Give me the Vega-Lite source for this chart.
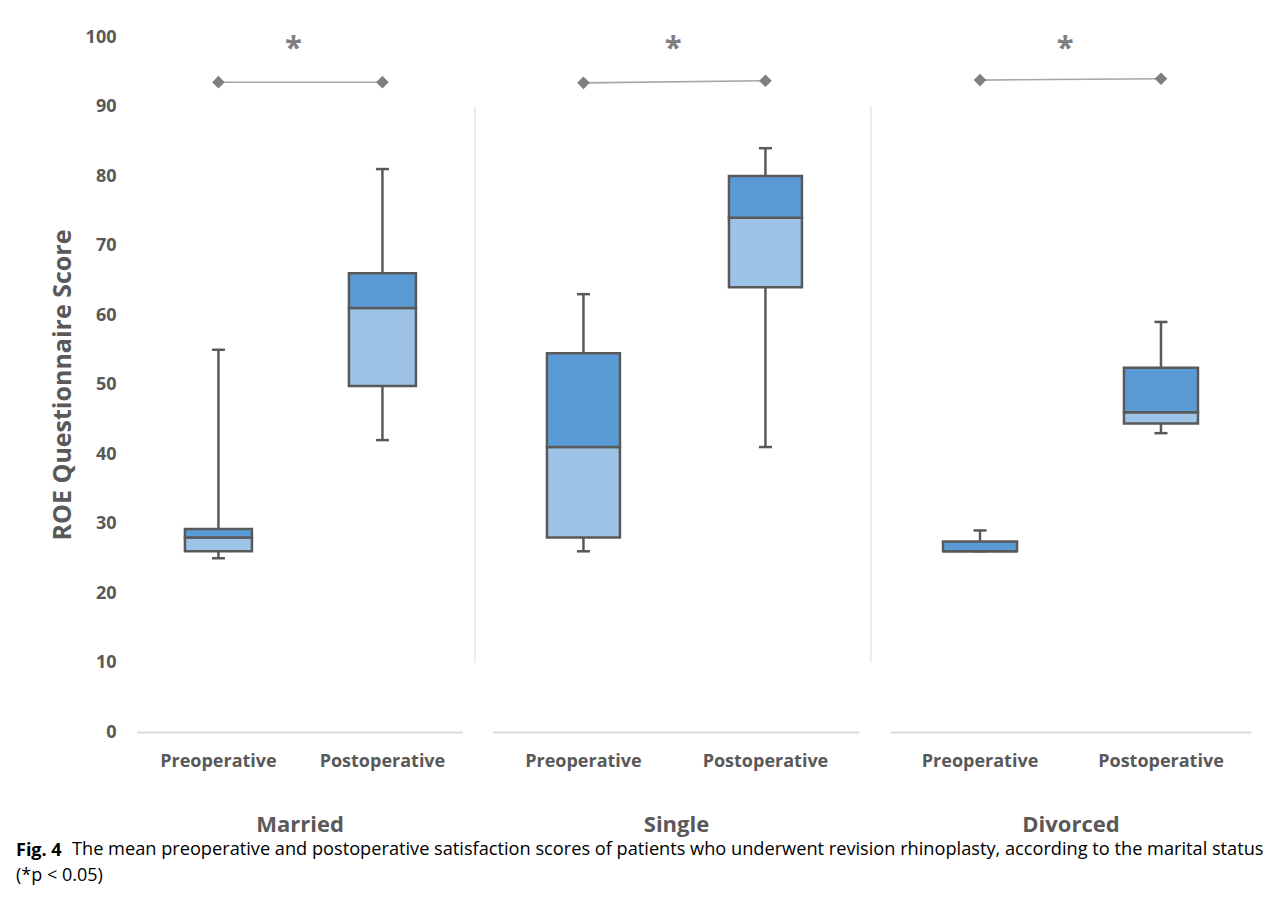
{
  "$schema": "https://vega.github.io/schema/vega-lite/v6.json",
  "background": "white",
  "padding": {"left": 16, "top": 28, "right": 5, "bottom": 5},
  "datasets": {
    "boxes": [
      {"group": "Married", "phase": "Preoperative", "min": 25, "q1": 26, "median": 28, "q3": 29.2, "max": 55, "mean": 93.5},
      {"group": "Married", "phase": "Postoperative", "min": 42, "q1": 49.8, "median": 61, "q3": 66, "max": 81, "mean": 93.5},
      {"group": "Single", "phase": "Preoperative", "min": 26, "q1": 28, "median": 41, "q3": 54.5, "max": 63, "mean": 93.4},
      {"group": "Single", "phase": "Postoperative", "min": 41, "q1": 64, "median": 74, "q3": 80, "max": 84, "mean": 93.7},
      {"group": "Divorced", "phase": "Preoperative", "min": 26, "q1": 26, "median": 26, "q3": 27.4, "max": 29, "mean": 93.8},
      {"group": "Divorced", "phase": "Postoperative", "min": 43, "q1": 44.4, "median": 46, "q3": 52.4, "max": 59, "mean": 94.0}
    ],
    "significance": [
      {"group": "Married", "label": "*"},
      {"group": "Single", "label": "*"},
      {"group": "Divorced", "label": "*"}
    ]
  },
  "spacing": 31,
  "bounds": "flush",
  "hconcat": [
    {
      "width": 325,
      "height": 695,
      "title": {
        "text": "Fig. 4",
        "subtitle": "(*p < 0.05)",
        "orient": "bottom",
        "anchor": "start",
        "frame": "group",
        "font": "Open Sans",
        "fontSize": 18,
        "fontWeight": "bold",
        "color": "#000000",
        "subtitleFont": "Open Sans",
        "subtitleFontSize": 18,
        "subtitleFontWeight": "normal",
        "subtitleColor": "#000000",
        "subtitlePadding": 7,
        "offset": 7,
        "dx": -121
      },
      "data": {"name": "boxes"},
      "transform": [{"filter": "datum.group === 'Married'"}],
      "encoding": {
        "x": {"field": "phase", "type": "nominal", "sort": ["Preoperative", "Postoperative"],
              "scale": {"paddingInner": 0.5915, "paddingOuter": 0.2866, "align": 0.51},
              "axis": {"title": "Married"}}
      },
      "layer": [
        {"mark": {"type": "rule", "color": "#595959", "strokeWidth": 2.5},
         "encoding": {"y": {"field": "min", "type": "quantitative", "scale": {"domain": [0, 100]},
                            "axis": {"title": "ROE Questionnaire Score", "values": [0, 10, 20, 30, 40, 50, 60, 70, 80, 90, 100],
                                     "grid": false, "domain": false, "ticks": false, "tickSize": 0, "labelPadding": 21,
                                     "titleFontSize": 25, "titlePadding": 10}},
                      "y2": {"field": "max"}}},
        {"mark": {"type": "tick", "color": "#595959", "thickness": 2.5, "size": 13, "opacity": 1},
         "encoding": {"y": {"field": "min", "type": "quantitative"}}},
        {"mark": {"type": "tick", "color": "#595959", "thickness": 2.5, "size": 13, "opacity": 1},
         "encoding": {"y": {"field": "max", "type": "quantitative"}}},
        {"mark": {"type": "bar", "fill": "#9DC3E6", "stroke": "#595959", "strokeWidth": 2.5},
         "encoding": {"y": {"field": "q1", "type": "quantitative"}, "y2": {"field": "median"}}},
        {"mark": {"type": "bar", "fill": "#5B9BD5", "stroke": "#595959", "strokeWidth": 2.5},
         "encoding": {"y": {"field": "median", "type": "quantitative"}, "y2": {"field": "q3"}}},
        {"mark": {"type": "line", "color": "#A6A6A6", "strokeWidth": 1.6},
         "encoding": {"y": {"field": "mean", "type": "quantitative"}}},
        {"mark": {"type": "point", "shape": "diamond", "filled": true, "color": "#7F7F7F", "size": 160, "opacity": 1},
         "encoding": {"y": {"field": "mean", "type": "quantitative"}}},
        {"data": {"name": "significance"},
         "transform": [{"filter": "datum.group === 'Married'"}],
         "layer": [
           {"mark": {"type": "text", "fontSize": 31, "fontWeight": "bold", "color": "#7F7F7F", "baseline": "alphabetic", "font": "Open Sans"},
            "encoding": {"x": {"datum": "Preoperative", "type": "nominal", "bandPosition": 1.62},
                         "y": {"datum": 97, "type": "quantitative"},
                         "text": {"field": "label"}}},
           {"mark": {"type": "rule", "color": "#D9D9D9", "strokeWidth": 1},
            "encoding": {"x": {"datum": "Postoperative", "type": "nominal", "bandPosition": 1.881},
                         "y": {"datum": 10, "type": "quantitative"},
                         "y2": {"datum": 90}}}
         ]}
      ]
    },
    {
      "width": 366,
      "height": 695,
      "data": {"name": "boxes"},
      "transform": [{"filter": "datum.group === 'Single'"}],
      "encoding": {
        "x": {"field": "phase", "type": "nominal", "sort": ["Preoperative", "Postoperative"],
              "scale": {"paddingInner": 0.599, "paddingOuter": 0.305, "align": 0.486},
              "axis": {"title": "Single"}}
      },
      "layer": [
        {"mark": {"type": "rule", "color": "#595959", "strokeWidth": 2.5},
         "encoding": {"y": {"field": "min", "type": "quantitative", "scale": {"domain": [0, 100]}, "axis": null},
                      "y2": {"field": "max"}}},
        {"mark": {"type": "tick", "color": "#595959", "thickness": 2.5, "size": 13, "opacity": 1},
         "encoding": {"y": {"field": "min", "type": "quantitative"}}},
        {"mark": {"type": "tick", "color": "#595959", "thickness": 2.5, "size": 13, "opacity": 1},
         "encoding": {"y": {"field": "max", "type": "quantitative"}}},
        {"mark": {"type": "bar", "fill": "#9DC3E6", "stroke": "#595959", "strokeWidth": 2.5},
         "encoding": {"y": {"field": "q1", "type": "quantitative"}, "y2": {"field": "median"}}},
        {"mark": {"type": "bar", "fill": "#5B9BD5", "stroke": "#595959", "strokeWidth": 2.5},
         "encoding": {"y": {"field": "median", "type": "quantitative"}, "y2": {"field": "q3"}}},
        {"mark": {"type": "line", "color": "#A6A6A6", "strokeWidth": 1.6},
         "encoding": {"y": {"field": "mean", "type": "quantitative"}}},
        {"mark": {"type": "point", "shape": "diamond", "filled": true, "color": "#7F7F7F", "size": 160, "opacity": 1},
         "encoding": {"y": {"field": "mean", "type": "quantitative"}}},
        {"data": {"name": "significance"},
         "transform": [{"filter": "datum.group === 'Single'"}],
         "layer": [
           {"mark": {"type": "text", "fontSize": 31, "fontWeight": "bold", "color": "#7F7F7F", "baseline": "alphabetic", "font": "Open Sans"},
            "encoding": {"x": {"datum": "Preoperative", "type": "nominal", "bandPosition": 1.73},
                         "y": {"datum": 97, "type": "quantitative"},
                         "text": {"field": "label"}}},
           {"mark": {"type": "rule", "color": "#D9D9D9", "strokeWidth": 1},
            "encoding": {"x": {"datum": "Postoperative", "type": "nominal", "bandPosition": 1.945},
                         "y": {"datum": 10, "type": "quantitative"},
                         "y2": {"datum": 90}}}
         ]}
      ]
    },
    {
      "width": 361,
      "height": 695,
      "data": {"name": "boxes"},
      "transform": [{"filter": "datum.group === 'Divorced'"}],
      "encoding": {
        "x": {"field": "phase", "type": "nominal", "sort": ["Preoperative", "Postoperative"],
              "scale": {"paddingInner": 0.591, "paddingOuter": 0.293, "align": 0.5},
              "axis": {"title": "Divorced"}}
      },
      "layer": [
        {"mark": {"type": "rule", "color": "#595959", "strokeWidth": 2.5},
         "encoding": {"y": {"field": "min", "type": "quantitative", "scale": {"domain": [0, 100]}, "axis": null},
                      "y2": {"field": "max"}}},
        {"mark": {"type": "tick", "color": "#595959", "thickness": 2.5, "size": 13, "opacity": 1},
         "encoding": {"y": {"field": "min", "type": "quantitative"}}},
        {"mark": {"type": "tick", "color": "#595959", "thickness": 2.5, "size": 13, "opacity": 1},
         "encoding": {"y": {"field": "max", "type": "quantitative"}}},
        {"mark": {"type": "bar", "fill": "#9DC3E6", "stroke": "#595959", "strokeWidth": 2.5},
         "encoding": {"y": {"field": "q1", "type": "quantitative"}, "y2": {"field": "median"}}},
        {"mark": {"type": "bar", "fill": "#5B9BD5", "stroke": "#595959", "strokeWidth": 2.5},
         "encoding": {"y": {"field": "median", "type": "quantitative"}, "y2": {"field": "q3"}}},
        {"mark": {"type": "line", "color": "#A6A6A6", "strokeWidth": 1.6},
         "encoding": {"y": {"field": "mean", "type": "quantitative"}}},
        {"mark": {"type": "point", "shape": "diamond", "filled": true, "color": "#7F7F7F", "size": 160, "opacity": 1},
         "encoding": {"y": {"field": "mean", "type": "quantitative"}}},
        {"data": {"name": "significance"},
         "transform": [{"filter": "datum.group === 'Divorced'"}],
         "mark": {"type": "text", "fontSize": 31, "fontWeight": "bold", "color": "#7F7F7F", "baseline": "alphabetic", "font": "Open Sans"},
         "encoding": {"x": {"datum": "Preoperative", "type": "nominal", "bandPosition": 1.65},
                      "y": {"datum": 97, "type": "quantitative"},
                      "text": {"field": "label"}}}
      ]
    }
  ],
  "title": {
    "text": "The mean preoperative and postoperative satisfaction scores of patients who underwent revision rhinoplasty, according to the marital status",
    "orient": "bottom",
    "anchor": "start",
    "frame": "bounds",
    "font": "Open Sans",
    "fontSize": 18.2,
    "fontWeight": "normal",
    "color": "#000000",
    "offset": -44,
    "dx": 56
  },
  "config": {
    "view": {"stroke": null},
    "axis": {
      "labelFont": "Open Sans",
      "labelFontSize": 18,
      "labelFontWeight": "bold",
      "labelColor": "#595959",
      "titleFont": "Open Sans",
      "titleFontWeight": "bold",
      "titleColor": "#595959"
    },
    "axisX": {
      "labelAngle": 0,
      "domain": true,
      "domainColor": "#D9D9D9",
      "domainWidth": 2,
      "ticks": false,
      "tickSize": 0,
      "grid": false,
      "labelPadding": 20,
      "titleFontSize": 22,
      "titlePadding": 44
    }
  }
}
